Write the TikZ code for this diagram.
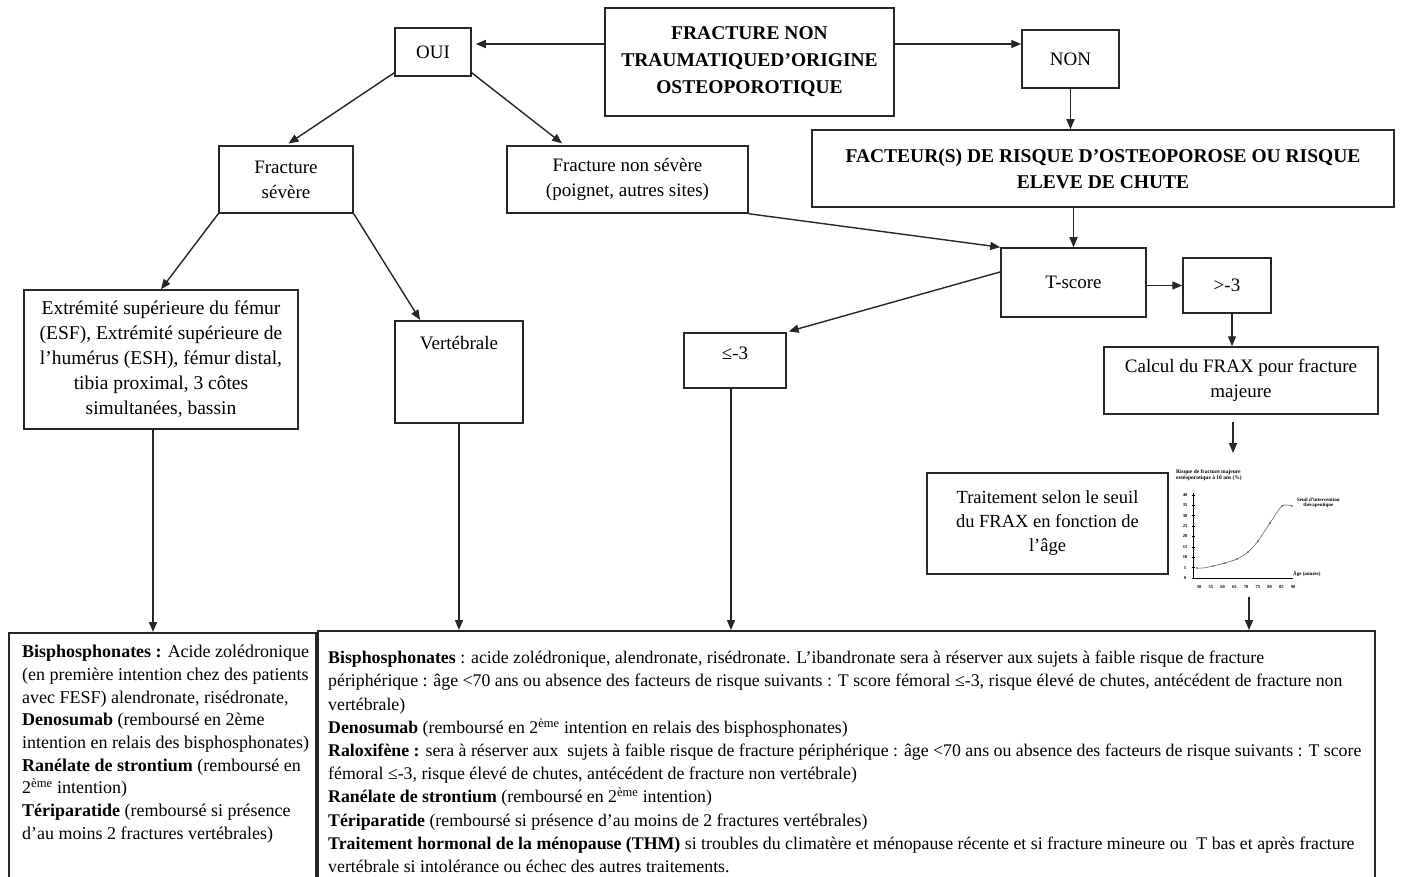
\documentclass[tikz,border=0pt]{standalone}
\usepackage{fontspec}
\setmainfont{Liberation Serif}
\usetikzlibrary{positioning,arrows.meta,calc}

\begin{document}
\begin{tikzpicture}[
			x=1pt, y=-1pt,
			>={Triangle[length=10pt,width=8pt]},
			box/.style={
				draw=black!85,
				line width=1.5pt,
				inner sep=0pt,
				align=center,
				font=\fontsize{19}{25}\selectfont
			},
			headbox/.style={
				box,
				font=\bfseries\fontsize{19.5}{27}\selectfont
			},
			topbox/.style={
				box,
				anchor=north,
				inner ysep=16pt,
				text height=13pt
			},
			drugtext/.style={
				inner sep=0pt,
				align=left,
				anchor=north west,
				font=\fontsize{17.8}{23.2}\selectfont
			},
			link/.style={->, line width=1.4pt, black!85},
			tiny/.style={inner sep=0pt, font=\bfseries\fontsize{4.5}{5}\selectfont}
			]
			
			\clip (0,0) rectangle (1402,877);
			
			%%%%%%%%%%%%%%%%%%%%%%%%%%%%%%%%%%%%%%%%%%%%%%%%%%%%%%%%%%%%
			% Start
			%%%%%%%%%%%%%%%%%%%%%%%%%%%%%%%%%%%%%%%%%%%%%%%%%%%%%%%%%%%%
			
			\node[headbox, minimum width=289, minimum height=108] (frac) at (749.5,62)
			{FRACTURE NON\\TRAUMATIQUED’ORIGINE\\OSTEOPOROTIQUE};
			
			\coordinate (row) at (0,44);
			
			\node[box, minimum width=76, minimum height=48] (oui) at (433,52)
			{OUI};
			
			\node[box, minimum width=97, minimum height=58] (non) at (1070.5,59)
			{NON};
			
			%%%%%%%%%%%%%%%%%%%%%%%%%%%%%%%%%%%%%%%%%%%%%%%%%%%%%%%%%%%%
			% OUI branch
			%%%%%%%%%%%%%%%%%%%%%%%%%%%%%%%%%%%%%%%%%%%%%%%%%%%%%%%%%%%%
			
			\node[box, minimum width=134, minimum height=67] (severe) at (286,179.5)
			{Fracture\\sévère};
			
			\node[box, minimum width=241, minimum height=67] (minor) at (627.5,179.5)
			{Fracture non sévère\\(poignet, autres sites)};
			
			\node[box, font=\fontsize{19.5}{25}\selectfont,
			minimum width=274, minimum height=139] (esf) at (161,359.5)
			{Extrémité supérieure du fémur\\(ESF), Extrémité supérieure de\\l’humérus (ESH), fémur distal,\\tibia proximal, 3 côtes\\simultanées, bassin};
			
			\node[topbox, minimum width=128, inner ysep=15.5pt, text depth=58pt] (vert) at (459,320)
			{Vertébrale};
			
			%%%%%%%%%%%%%%%%%%%%%%%%%%%%%%%%%%%%%%%%%%%%%%%%%%%%%%%%%%%%
			% NON branch
			%%%%%%%%%%%%%%%%%%%%%%%%%%%%%%%%%%%%%%%%%%%%%%%%%%%%%%%%%%%%
			
			\node[headbox, font=\bfseries\fontsize{19.5}{26}\selectfont,
			minimum width=582, minimum height=77] (risk) at (1103,168.5)
			{FACTEUR(S) DE RISQUE D’OSTEOPOROSE OU RISQUE\\ELEVE DE CHUTE};
			
			\node[box, minimum width=145, minimum height=69] (tscore) at (1073.5,282.5)
			{T-score};
			
			\node[box, minimum width=88, minimum height=55] (high) at (1227,285.5)
			{>-3};
			
			\node[topbox, minimum width=102, inner ysep=13.3pt, text depth=15.4pt] (low) at (735,332)
			{≤-3};
			
			\node[box, minimum width=274, minimum height=67] (frax) at (1241,380.5)
			{Calcul du FRAX pour fracture\\majeure};
			
			\node[box, font=\fontsize{18.5}{24}\selectfont,
			minimum width=241, minimum height=101] (seuil) at (1047.5,523.5)
			{Traitement selon le seuil\\du FRAX en fonction de\\l’âge};
			
			% FRAX curve
			
			\coordinate (plotin) at (1233,453);
			\coordinate (plotout) at (1249,597);
			
			\begin{scope}[shift={(1193,578)}]
				\draw[line width=0.8pt] (0,-85) -- (0,0) -- (100,0);
				\foreach \v [count=\i from 0] in {0,5,...,40} {
					\draw[line width=0.5pt] (-1.5,-10.4*\i) -- (1.5,-10.4*\i);
					\node[tiny] (yt\i) at (-8,-10.4*\i) {\v};
				}
				\foreach \v [count=\i from 0] in {50,55,...,90}
				\node[tiny] (xt\i) at (6+11.75*\i,9) {\v};
				\draw[black!60, line width=0.6pt] plot[smooth] coordinates
				{(4,-10) (10,-10) (20,-12) (32,-15) (44,-19) (55,-26) (65,-37) (77,-55) (89,-72) (99,-72)};
				\foreach \p in {(4,-10),(20,-12),(32,-15),(44,-19),(55,-26),(65,-37),(77,-55),(89,-72),(99,-72)}
				\fill[black!70] \p circle (0.9);
				\node[tiny, font=\bfseries\fontsize{5.5}{6}\selectfont, align=left, anchor=south west] (ptitle) at (-17,-97)
				{Risque de fracture majeure\\ostéoporotique à 10 ans (\%)};
				\node[tiny, font=\bfseries\fontsize{5}{5.5}\selectfont, align=center, anchor=west] (pseuil) at (104,-75)
				{Seuil d’intervention\\thérapeutique};
				\node[tiny, font=\bfseries\fontsize{5}{5.5}\selectfont, anchor=west] (page) at (100,-4)
				{Âge (années)};
			\end{scope}
			
			%%%%%%%%%%%%%%%%%%%%%%%%%%%%%%%%%%%%%%%%%%%%%%%%%%%%%%%%%%%%
			% Treatments
			%%%%%%%%%%%%%%%%%%%%%%%%%%%%%%%%%%%%%%%%%%%%%%%%%%%%%%%%%%%%
			
			\node[box, minimum width=307, minimum height=300, anchor=north west] (drugL) at (8,632) {};
			
			\node[drugtext, font=\fontsize{18}{22.7}\selectfont] (drugLtxt) at ([xshift=14pt,yshift=-13pt]drugL.north west)
			{\textbf{Bisphosphonates :} Acide zolédronique\\
				(en première intention chez des patients\\
				avec FESF) alendronate, risédronate,\\
				\textbf{Denosumab} (remboursé en 2ème\\
				intention en relais des bisphosphonates)\\
				\textbf{Ranélate de strontium} (remboursé en\\
				2\textsuperscript{ème} intention)\\
				\textbf{Tériparatide} (remboursé si présence\\
				d’au moins 2 fractures vertébrales)};
			
			\node[box, minimum width=1057, minimum height=300, anchor=north west] (drugR) at (317,630) {};
			
			\node[drugtext] (drugRtxt) at ([xshift=11pt,yshift=-21pt]drugR.north west)
			{\textbf{Bisphosphonates} : acide zolédronique, alendronate, risédronate. L’ibandronate sera à réserver aux sujets à faible risque de fracture\\
				périphérique : âge <70 ans ou absence des facteurs de risque suivants : T score fémoral ≤-3, risque élevé de chutes, antécédent de fracture non\\
				vertébrale)\\
				\textbf{Denosumab} (remboursé en 2\textsuperscript{ème} intention en relais des bisphosphonates)\\
				\textbf{Raloxifène :} sera à réserver aux\ \ sujets à faible risque de fracture périphérique : âge <70 ans ou absence des facteurs de risque suivants : T score\\
				fémoral ≤-3, risque élevé de chutes, antécédent de fracture non vertébrale)\\
				\textbf{Ranélate de strontium} (remboursé en 2\textsuperscript{ème} intention)\\
				\textbf{Tériparatide} (remboursé si présence d’au moins de 2 fractures vertébrales)\\
				\textbf{Traitement hormonal de la ménopause (THM)} si troubles du climatère et ménopause récente et si fracture mineure ou\ \ T bas et après fracture\\
				vertébrale si intolérance ou échec des autres traitements.};
			
			%%%%%%%%%%%%%%%%%%%%%%%%%%%%%%%%%%%%%%%%%%%%%%%%%%%%%%%%%%%%
			% Connections
			%%%%%%%%%%%%%%%%%%%%%%%%%%%%%%%%%%%%%%%%%%%%%%%%%%%%%%%%%%%%
			
			% Start
			
			\draw[link, shorten >=4pt] (frac.west |- row) -- (oui.east |- row);
			
			\draw[link] (frac.east |- row) -- (non.west |- row);
			
			% OUI
			
			\draw[link, shorten >=3pt] ($(oui.south west)!0.08!(oui.north west)$) -- (severe.north);
			
			\draw[link, shorten >=3pt] ($(oui.south east)!0.08!(oui.north east)$) -- ($(minor.north west)!0.24!(minor.north east)$);
			
			\draw[link] (severe.south west) -- (esf.north);
			
			\draw[link] (severe.south east) -- ($(vert.north west)!0.2!(vert.north east)$);
			
			% NON
			
			\draw[link] (non.south) -- (non.south |- risk.north);
			
			\draw[link] (risk.south -| tscore.north) -- (tscore.north);
			
			\draw[link] (minor.south east) -- (tscore.north west);
			
			% T-score
			
			\draw[link, shorten >=2pt] ($(tscore.north west)!0.35!(tscore.south west)$) -- (low.north east);
			
			\draw[link] (tscore.east |- high.west) -- (high.west);
			
			\draw[link] ([xshift=5pt]high.south) -- ([xshift=5pt]high.south |- frax.north);
			
			\draw[link, shorten <=7pt] (frax.south -| plotin) -- (plotin);
			
			% Treatments
			
			\draw[link] ([xshift=-8pt]esf.south) -- ([xshift=-8pt]esf.south |- drugL.north);
			
			\draw[link] (vert.south) -- (vert.south |- drugR.north);
			
			\draw[link] ([xshift=-4pt]low.south) -- ([xshift=-4pt]low.south |- drugR.north);
			
			\draw[link] (plotout) -- (plotout |- drugR.north);
			
		\end{tikzpicture}
\end{document}
